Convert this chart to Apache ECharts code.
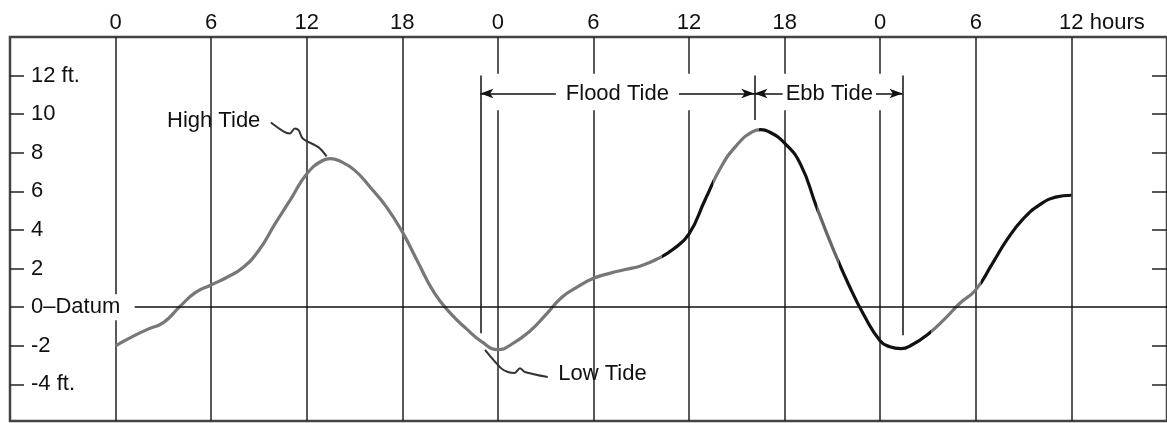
<!DOCTYPE html>
<html>
<head>
<meta charset="utf-8">
<script src="https://cdn.jsdelivr.net/npm/echarts@6/dist/echarts.min.js"></script>
<style>
  html, body { margin: 0; padding: 0; background: #fff; }
  #chart { width: 1167px; height: 423px; }
</style>
</head>
<body>
<div id="chart"></div>
<script>
// ---- data ----
const hourTicks = [0, 6, 12, 18, 24, 30, 36, 42, 48, 54, 60];
const hourLabels = ['0', '6', '12', '18', '0', '6', '12', '18', '0', '6', '12 hours'];
const ftTicks = [-4, -2, 0, 2, 4, 6, 8, 10, 12];
const ftLabels = ['-4 ft.', '-2', '0\u2013Datum', '2', '4', '6', '8', '10', '12 ft.'];

// tide height (ft), hour by hour
const tideHours = [0, 1, 2, 3, 4, 5, 6, 7, 8, 9,
  10, 11, 12, 13, 13.5, 14, 15, 16, 17, 18, 19,
  20, 21, 22, 23, 24, 25, 26, 27, 28, 29,
  30, 31, 32, 33, 34, 35, 36, 37, 38, 39,
  40, 40.5, 41, 42, 43, 44, 45, 46, 47, 48, 48.6, 49.3,
  50, 51, 52, 53, 54, 55, 56, 57, 58, 59, 60];
const tideFeet = [-2.0, -1.55, -1.15, -0.8, 0.0, 0.75, 1.15, 1.55, 2.05, 2.95,
  4.3, 5.6, 6.9, 7.6, 7.7, 7.6, 7.1, 6.2, 5.2, 3.9, 2.3,
  0.75, -0.3, -1.1, -1.8, -2.2, -1.85, -1.25, -0.4, 0.5, 1.05,
  1.5, 1.75, 1.95, 2.15, 2.5, 3.0, 3.8, 5.55, 7.25, 8.4,
  9.1, 9.2, 9.1, 8.5, 7.4, 5.2, 3.1, 1.2, -0.45, -1.75, -2.05, -2.15,
  -1.95, -1.4, -0.65, 0.2, 0.9, 2.2, 3.55, 4.6, 5.3, 5.7, 5.8];

// leader lines for the annotations (hours, feet)
const highLeaderHours = [9.75, 10.56, 10.94, 11.25, 11.5, 11.75, 12.75, 13.25];
const highLeaderFeet  = [9.57, 9.10, 9.00, 9.26, 9.16, 8.74, 8.28, 7.81];
const lowLeaderHours = [23.19, 24.19, 24.63, 25.06, 25.38, 25.69, 27.13];
const lowLeaderFeet  = [-2.22, -3.16, -3.36, -3.41, -3.16, -3.36, -3.62];

// text annotations
const noteTexts = ['High Tide', 'Low Tide', 'Flood Tide', 'Ebb Tide'];
const noteHours = [6.16, 30.56, 31.5, 44.8];
const noteFeet  = [9.67, -3.47, 11.07, 11.07];

// flood / ebb markers
const floodStart = 22.9, slackHigh = 40.1, ebbEnd = 49.4;
const arrowLevel = 11.07;
const floodStartBottom = -1.35, ebbEndBottom = -1.45, markerTop = 12.0, slackBottom = 9.7;

// ---- chart ----
const X_MIN = -6.625, X_MAX = 66, Y_MIN = -5.9, Y_MAX = 14;
const FONT = 'Liberation Sans, Arial, sans-serif';
const zip = (a, b) => a.map((v, i) => [v, b[i]]);

const chart = echarts.init(document.getElementById('chart'), null, { renderer: 'canvas' });

const notePadding = { 'Flood Tide': [1, 10], 'Ebb Tide': [1, 3], 'High Tide': [0, 0], 'Low Tide': [0, 0] };
const noteBg = { 'Flood Tide': '#fff', 'Ebb Tide': '#fff', 'High Tide': 'transparent', 'Low Tide': 'transparent' };

chart.setOption({
  animation: false,
  backgroundColor: '#fff',
  grid: {
    left: 10, top: 37, width: 1162, height: 384,
    show: true, borderColor: '#444', borderWidth: 2.5, backgroundColor: 'transparent'
  },
  xAxis: {
    type: 'value', position: 'top', min: X_MIN, max: X_MAX, z: 1,
    axisLine: { show: false, onZero: false },
    axisTick: { show: false, customValues: hourTicks },
    splitLine: { show: true, lineStyle: { color: '#222', width: 1.5 } },
    axisLabel: {
      customValues: hourTicks, margin: 3, color: '#111', fontSize: 22, fontFamily: FONT,
      formatter: v => {
        const s = hourLabels[hourTicks.indexOf(v)];
        return s.indexOf(' ') > 0 ? '{pad|}' + s : s;
      },
      rich: { pad: { width: 61 } }
    }
  },
  yAxis: [{
    type: 'value', position: 'left', min: Y_MIN, max: Y_MAX, z: 10,
    axisLine: { show: false, onZero: false },
    splitLine: { show: false },
    axisTick: { show: true, inside: true, length: 14, customValues: ftTicks, lineStyle: { color: '#222', width: 1.5 } },
    axisLabel: {
      inside: true, margin: 20, customValues: ftTicks, color: '#111', fontSize: 22, fontFamily: FONT,
      backgroundColor: '#fff', padding: [2, 3, 2, 1],
      formatter: v => ftLabels[ftTicks.indexOf(v)]
    }
  }, {
    type: 'value', position: 'right', min: Y_MIN, max: Y_MAX, z: 10,
    axisLine: { show: false, onZero: false },
    splitLine: { show: false },
    axisTick: { show: true, inside: true, length: 15, customValues: ftTicks.filter(v => v !== 0), lineStyle: { color: '#222', width: 1.5 } },
    axisLabel: { show: false, customValues: ftTicks }
  }],
  visualMap: {
    type: 'piecewise', show: false, dimension: 0, seriesIndex: 0,
    pieces: [
      { lt: 34.3, color: '#777' },
      { gte: 34.3, lt: 37.5, color: '#111' },
      { gte: 37.5, lt: 40.4, color: '#777' },
      { gte: 40.4, lt: 44, color: '#111' },
      { gte: 44, lt: 45.4, color: '#666' },
      { gte: 45.4, lt: 51.2, color: '#111' },
      { gte: 51.2, lt: 54.3, color: '#777' },
      { gte: 54.3, color: '#111' }
    ]
  },
  series: [
    {
      name: 'Tide', type: 'line', z: 3, smooth: 0.5, showSymbol: false, silent: true,
      data: zip(tideHours, tideFeet),
      lineStyle: { width: 3.2 }
    },
    {
      name: 'band', type: 'line', z: 2, data: [], silent: true,
      markArea: {
        silent: true,
        itemStyle: { color: '#fff' },
        data: [[{ coord: [floodStart + 0.6, 10.2] }, { coord: [ebbEnd - 0.9, 12.1] }]]
      }
    },
    {
      name: 'markers', type: 'line', z: 4, data: [], silent: true,
      markLine: {
        silent: true, symbol: ['none', 'none'], symbolSize: [7, 13],
        label: { show: false },
        lineStyle: { color: '#111', width: 1.5, type: 'solid' },
        data: [
          [{ coord: [1.2, 0] }, { coord: [X_MAX, 0] }],
          [{ coord: [floodStart, markerTop] }, { coord: [floodStart, floodStartBottom] }],
          [{ coord: [slackHigh, markerTop] }, { coord: [slackHigh, slackBottom] }],
          [{ coord: [ebbEnd, markerTop] }, { coord: [ebbEnd, ebbEndBottom] }],
          [{ coord: [floodStart, arrowLevel], symbol: 'arrow' }, { coord: [slackHigh, arrowLevel], symbol: 'arrow' }],
          [{ coord: [slackHigh, arrowLevel], symbol: 'arrow' }, { coord: [ebbEnd, arrowLevel], symbol: 'arrow' }]
        ]
      }
    },
    {
      name: 'highLeader', type: 'line', z: 4, smooth: 0.3, showSymbol: false, silent: true,
      data: zip(highLeaderHours, highLeaderFeet),
      lineStyle: { color: '#333', width: 2 }
    },
    {
      name: 'lowLeader', type: 'line', z: 4, smooth: 0.3, showSymbol: false, silent: true,
      data: zip(lowLeaderHours, lowLeaderFeet),
      lineStyle: { color: '#333', width: 2 }
    },
    {
      name: 'notes', type: 'scatter', z: 6, symbolSize: 0, silent: true,
      itemStyle: { opacity: 1 },
      data: noteTexts.map((t, i) => ({
        value: [noteHours[i], noteFeet[i]], name: t,
        label: { padding: notePadding[t], backgroundColor: noteBg[t], color: '#111' }
      })),
      label: {
        show: true, position: 'inside', formatter: p => p.name,
        color: '#111', fontSize: 22, fontFamily: FONT
      }
    }
  ]
});
</script>
</body>
</html>
